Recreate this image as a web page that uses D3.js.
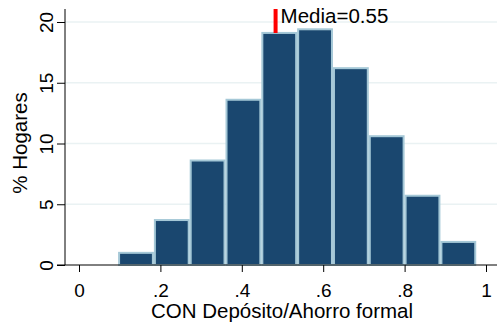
<!DOCTYPE html>
<html>
<head>
<meta charset="utf-8">
<script src="https://cdn.jsdelivr.net/npm/d3@7"></script>
<style>
html,body{margin:0;padding:0;background:#fff;}
svg{display:block;font-family:"Liberation Sans",Arial,sans-serif;}
</style>
</head>
<body>
<svg id="chart" width="497" height="324"></svg>
<script>
const binEdges = [0.096,0.184,0.272,0.360,0.448,0.536,0.624,0.712,0.800,0.888,0.976];
const binValues = [1.0,3.7,8.6,13.6,19.1,19.4,16.2,10.6,5.7,1.9];
const xTicks = [0,0.2,0.4,0.6,0.8,1];
const xTickLabels = ["0",".2",".4",".6",".8","1"];
const yTicks = [0,5,10,15,20];
const meanPos = 0.483;
const meanLabel = "Media=0.55";
const xTitle = "CON Depósito/Ahorro formal";
const yTitle = "% Hogares";

const svg = d3.select("#chart");
const x = d3.scaleLinear().domain([0,1]).range([79,486]);
const y = d3.scaleLinear().domain([0,20]).range([265,22]);
const plotLeft = 65, plotRight = 497, plotTop = 9;

// gridlines
svg.append("g").selectAll("line").data(yTicks.filter(d=>d>0)).join("line")
  .attr("x1",plotLeft).attr("x2",plotRight)
  .attr("y1",d=>y(d)).attr("y2",d=>y(d))
  .attr("stroke","#eaf2f3").attr("stroke-width",1.5);

// bars
const bins = binValues.map((v,i)=>({x0:binEdges[i],x1:binEdges[i+1],v}));
svg.append("g").selectAll("rect").data(bins).join("rect")
  .attr("x",d=>x(d.x0)+1)
  .attr("y",d=>y(d.v))
  .attr("width",d=>x(d.x1)-x(d.x0)-2)
  .attr("height",d=>y(0)-y(d.v))
  .attr("fill","#1a476f")
  .attr("stroke","#a5c8d7")
  .attr("stroke-width",2);

// y axis
const yAxis = d3.axisLeft(y).tickValues(yTicks).tickSize(8).tickFormat(d3.format("d"));
const gy = svg.append("g").attr("transform",`translate(${plotLeft},0)`).call(yAxis);
gy.select(".domain").remove();
gy.append("line").attr("x1",0).attr("x2",0).attr("y1",plotTop).attr("y2",y(0)).attr("stroke","#000");
gy.selectAll(".tick line").attr("stroke","#000");
gy.selectAll(".tick text")
  .attr("fill","#000").attr("font-size",19)
  .attr("x",0).attr("dy",0)
  .attr("text-anchor","middle")
  .attr("transform",function(d){return `translate(-12,0) rotate(-90)`;})
  .attr("y",0);

// x axis
const xAxis = d3.axisBottom(x).tickValues(xTicks).tickSize(7).tickFormat((d,i)=>xTickLabels[i]);
const gx = svg.append("g").attr("transform",`translate(0,${y(0)})`).call(xAxis);
gx.select(".domain").remove();
gx.append("line").attr("x1",plotLeft-8).attr("x2",plotRight).attr("y1",0).attr("y2",0).attr("stroke","#000");
gx.selectAll(".tick line").attr("stroke","#000");
gx.selectAll(".tick text").attr("fill","#000").attr("font-size",19).attr("y",32).attr("dy",0);

// titles
svg.append("text").attr("x",(148+416)/2).attr("y",318)
  .attr("text-anchor","middle").attr("font-size",20.5).attr("fill","#000").text(xTitle);
svg.append("text").attr("transform",`translate(27,143) rotate(-90)`)
  .attr("text-anchor","middle").attr("font-size",20.5).attr("fill","#000").text(yTitle);

// mean marker
svg.append("line").attr("x1",x(meanPos)).attr("x2",x(meanPos)).attr("y1",9).attr("y2",33)
  .attr("stroke","#ff0000").attr("stroke-width",4);
svg.append("text").attr("x",x(meanPos)+5).attr("y",22.5)
  .attr("font-size",20.5).attr("fill","#000").text(meanLabel);
</script>
</body>
</html>
